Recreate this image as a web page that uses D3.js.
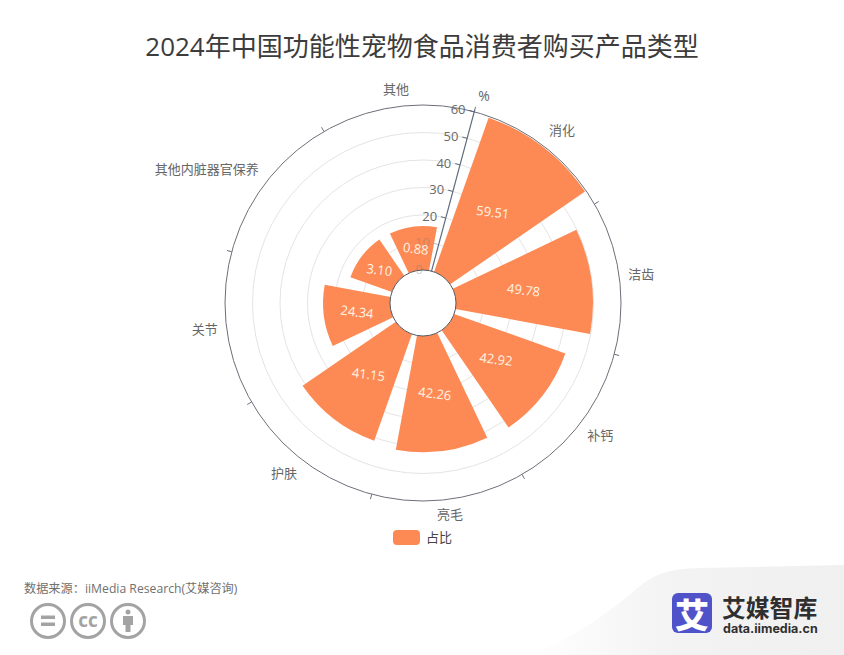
<!DOCTYPE html>
<html>

<head>
    <meta charset="UTF-8">
    <title>2024年中国功能性宠物食品消费者购买产品类型</title>
    <style>
        html,
        body {
            margin: 0;
            background: #fff;
        }

        svg {
            display: block;
            font-family: "Open Sans", "Noto Sans CJK SC", sans-serif;
        }
    </style>
</head>

<body>
    <svg width="844" height="655"></svg>

    <script src="https://d3js.org/d3.v7.min.js"></script>
    <script>
// data
var categories = ["消化", "洁齿", "补钙", "亮毛", "护肤", "关节", "其他内脏器官保养", "其他"];
var values = [59.51, 49.78, 42.92, 42.26, 41.15, 24.34, 3.10, 0.88];
var radialTicks = [0, 10, 20, 30, 40, 50, 60];

// layout
var cx = 423;
var cy = 303;
var innerR = 33;
var outerR = 198;
var startDeg = 15;     // where the angle axis starts, clockwise from 12 o'clock
var barMinHeight = 44; // small values keep a minimum bar height
var orange = "#fd8a54";
var toRad = Math.PI / 180;

var svg = d3.select("svg");

// background swoosh bottom right
var defs = svg.append("defs");
var grad = defs.append("linearGradient").attr("id", "swoosh");
grad.append("stop").attr("offset", "0%").attr("stop-color", "#fff");
grad.append("stop").attr("offset", "45%").attr("stop-color", "#f3f3f3");
grad.append("stop").attr("offset", "100%").attr("stop-color", "#f0f0f0");
svg.append("path")
    .attr("d", "M530,655 C570,640 610,612 635,590 C655,573 670,569 700,568 L844,565 L844,655 Z")
    .attr("fill", "url(#swoosh)");

// title
svg.append("text")
    .attr("x", 422).attr("y", 46)
    .attr("text-anchor", "middle").attr("dominant-baseline", "central")
    .attr("font-size", 26).attr("fill", "#3c3c3c")
    .text("2024年中国功能性宠物食品消费者购买产品类型");

// scales
var angle = d3.scaleBand()
    .domain(categories)
    .range([startDeg * toRad, (startDeg + 360) * toRad])
    .paddingInner(0.2)
    .paddingOuter(0.1);
var radius = d3.scaleLinear().domain([0, 60]).range([innerR, outerR]);

var chart = svg.append("g").attr("transform", "translate(" + cx + "," + cy + ")");

// grid rings
chart.selectAll(".ring")
    .data(radialTicks.slice(1, -1))
    .enter()
    .append("circle")
    .attr("r", function (d) { return radius(d); })
    .attr("fill", "none")
    .attr("stroke", "#e4e4e4");

// outer ring + angle ticks
chart.append("circle")
    .attr("r", outerR)
    .attr("fill", "none")
    .attr("stroke", "#6e7079");

var step = 2 * Math.PI / categories.length;
chart.selectAll(".atick")
    .data(categories)
    .enter()
    .append("line")
    .attr("x1", function (d, i) { return outerR * Math.sin(startDeg * toRad + i * step); })
    .attr("y1", function (d, i) { return -outerR * Math.cos(startDeg * toRad + i * step); })
    .attr("x2", function (d, i) { return (outerR + 5) * Math.sin(startDeg * toRad + i * step); })
    .attr("y2", function (d, i) { return -(outerR + 5) * Math.cos(startDeg * toRad + i * step); })
    .attr("stroke", "#6e7079");

// bars
var arc = d3.arc();
function barTop(v) {
    return Math.max(radius(v), innerR + barMinHeight);
}
chart.selectAll(".bar")
    .data(values)
    .enter()
    .append("path")
    .attr("fill", orange)
    .attr("d", function (d, i) {
        var a0 = angle(categories[i]);
        return arc({
            innerRadius: innerR,
            outerRadius: barTop(d),
            startAngle: a0,
            endAngle: a0 + angle.bandwidth()
        });
    });

// inner circle
chart.append("circle")
    .attr("r", innerR)
    .attr("fill", "#fff")
    .attr("stroke", "#55585f");

// radial axis
var axisA = startDeg * toRad;
var sinA = Math.sin(axisA);
var cosA = Math.cos(axisA);
chart.append("line")
    .attr("x1", radius(0) * sinA).attr("y1", -radius(0) * cosA)
    .attr("x2", (outerR + 2) * sinA).attr("y2", -(outerR + 2) * cosA)
    .attr("stroke", "#5d6b7c").attr("stroke-width", 1.2);
chart.selectAll(".rtick")
    .data(radialTicks)
    .enter()
    .append("line")
    .attr("x1", function (d) { return radius(d) * sinA; })
    .attr("y1", function (d) { return -radius(d) * cosA; })
    .attr("x2", function (d) { return radius(d) * sinA - 5 * cosA; })
    .attr("y2", function (d) { return -radius(d) * cosA - 5 * sinA; })
    .attr("stroke", "#5d6b7c")
    .attr("opacity", function (d) { return d <= 10 ? 0.3 : 1; });
chart.selectAll(".rlabel")
    .data(radialTicks)
    .enter()
    .append("text")
    .attr("x", function (d) { return radius(d) * sinA - 9 * cosA; })
    .attr("y", function (d) { return -radius(d) * cosA - 9 * sinA; })
    .attr("text-anchor", "end").attr("dominant-baseline", "central")
    .attr("font-size", 13).attr("fill", "#6a6a6a")
    .attr("opacity", function (d) { return d <= 10 ? 0.3 : 1; })
    .text(function (d) { return d; });
chart.append("text")
    .attr("x", 217 * sinA + 5).attr("y", -217 * cosA + 2)
    .attr("text-anchor", "middle").attr("dominant-baseline", "central")
    .attr("font-size", 14).attr("fill", "#666")
    .text("%");

// value labels
chart.selectAll(".vlabel")
    .data(values)
    .enter()
    .append("text")
    .attr("transform", function (d, i) {
        var a = angle(categories[i]) + angle.bandwidth() / 2;
        var r = (innerR + barTop(d)) / 2;
        return "translate(" + r * Math.sin(a) + "," + -r * Math.cos(a) + ") rotate(7)";
    })
    .attr("text-anchor", "middle").attr("dominant-baseline", "central")
    .attr("font-size", 13).attr("fill", "#fff3e4")
    .text(function (d) { return d.toFixed(2); });

// category labels
chart.selectAll(".clabel")
    .data(categories)
    .enter()
    .append("text")
    .attr("x", function (d) { return 207 * Math.sin(angle(d) + angle.bandwidth() / 2); })
    .attr("y", function (d) { return -207 * Math.cos(angle(d) + angle.bandwidth() / 2) - 1.5; })
    .attr("dy", function (d) {
        var c = Math.cos(angle(d) + angle.bandwidth() / 2);
        return Math.abs(c) < 0.3 ? 0 : (c > 0 ? -7 : 7);
    })
    .attr("text-anchor", function (d) {
        var s = Math.sin(angle(d) + angle.bandwidth() / 2);
        return Math.abs(s) < 0.3 ? "middle" : (s > 0 ? "start" : "end");
    })
    .attr("dominant-baseline", "central")
    .attr("font-size", 13).attr("fill", "#666")
    .text(function (d) { return d; });

// legend
svg.append("rect")
    .attr("x", 393).attr("y", 530)
    .attr("width", 27).attr("height", 15)
    .attr("rx", 4).attr("fill", orange);
svg.append("text")
    .attr("x", 426).attr("y", 536.5)
    .attr("dominant-baseline", "central")
    .attr("font-size", 13).attr("fill", "#444")
    .text("占比");

// source
svg.append("text")
    .attr("x", 24).attr("y", 588.5)
    .attr("dominant-baseline", "central")
    .attr("font-size", 12.2).attr("fill", "#707070")
    .text("数据来源：iiMedia Research(艾媒咨询)");

// licence icons
var grey = "#a3a3a3";
var icons = svg.append("g");
icons.selectAll("circle")
    .data([48, 88, 128])
    .enter()
    .append("circle")
    .attr("cx", function (d) { return d; })
    .attr("cy", 621)
    .attr("r", 16.5)
    .attr("fill", "#fff")
    .attr("stroke", grey)
    .attr("stroke-width", 3);
icons.append("rect").attr("x", 41).attr("y", 615.5).attr("width", 14).attr("height", 3.5).attr("fill", grey);
icons.append("rect").attr("x", 41).attr("y", 622.5).attr("width", 14).attr("height", 3.5).attr("fill", grey);
icons.append("text")
    .attr("x", 88).attr("y", 620)
    .attr("text-anchor", "middle").attr("dominant-baseline", "central")
    .attr("font-size", 19).attr("font-weight", 700).attr("fill", grey)
    .text("cc");
icons.append("circle").attr("cx", 128).attr("cy", 612).attr("r", 2.5).attr("fill", grey);
icons.append("path")
    .attr("d", "M123,616 H133 V625 H130.5 V632 H125.5 V625 H123 Z")
    .attr("fill", grey);

// logo
svg.append("rect")
    .attr("x", 672).attr("y", 593)
    .attr("width", 40).attr("height", 40)
    .attr("rx", 6).attr("fill", "#4f52c9");
svg.append("text")
    .attr("x", 692).attr("y", 613)
    .attr("text-anchor", "middle").attr("dominant-baseline", "central")
    .attr("font-size", 34).attr("font-weight", 900).attr("fill", "#fff")
    .attr("font-family", "Noto Sans CJK SC")
    .text("艾");
svg.append("text")
    .attr("x", 722).attr("y", 606)
    .attr("dominant-baseline", "central")
    .attr("font-size", 23.8).attr("font-weight", 700).attr("fill", "#2f2f2f")
    .attr("font-family", "Noto Sans CJK SC")
    .text("艾媒智库");
svg.append("text")
    .attr("x", 723).attr("y", 628)
    .attr("dominant-baseline", "central")
    .attr("font-size", 12.5).attr("font-weight", 700).attr("fill", "#2f2f2f")
    .attr("font-family", "Inter")
    .text("data.iimedia.cn");
    </script>
</body>

</html>
